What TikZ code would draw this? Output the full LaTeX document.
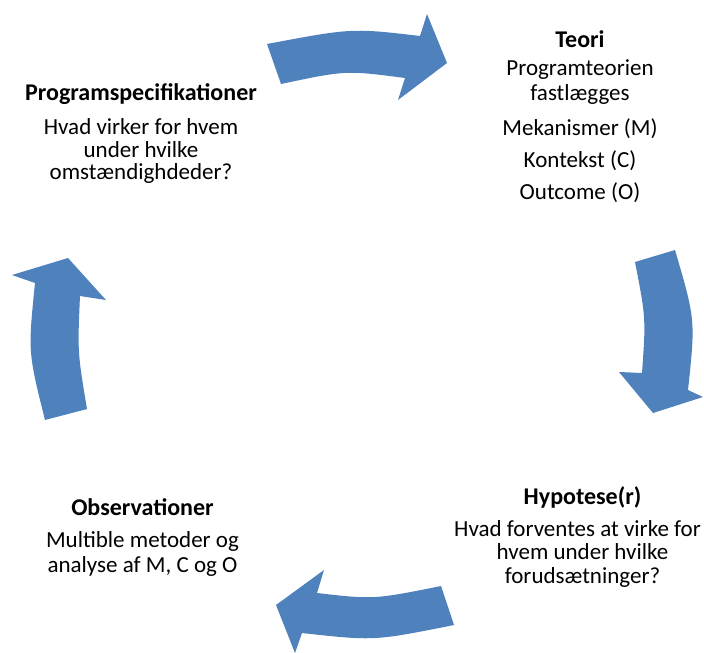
\documentclass[tikz,border=0pt]{standalone}
\usepackage{fontspec}
\setmainfont{Carlito}
\definecolor{arrowblue}{RGB}{79,129,189}
\begin{document}
\begin{tikzpicture}[x=1pt,y=-1pt,
  blockarrow/.style={fill=arrowblue,draw=none},
  hd/.style={anchor=base,inner sep=0pt,font=\fontsize{24}{25}\selectfont\bfseries},
  tx/.style={anchor=base,inner sep=0pt,font=\fontsize{23}{24}\selectfont}]
\useasboundingbox (0,0) rectangle (704,653);
% arrows
\fill[blockarrow] (267,44) .. controls (352,28) .. (420,36) -- (427,14) -- (447,63) -- (398,100) -- (405,78) .. controls (345.7,70.3) .. (281,84) -- cycle;
\fill[blockarrow] (635,262) -- (675,250) .. controls (695.5,320) .. (688,390) -- (703,397) -- (653,413) -- (619,372) -- (642,373) .. controls (645.9,318) .. (635,262) -- cycle;
\fill[blockarrow] (441,586) .. controls (373.7,599.5) .. (317,593) -- (324,570) -- (276,605) -- (295,653) -- (302,633) .. controls (374,641) .. (454,625) -- cycle;
\fill[blockarrow] (45,420) -- (87,409) .. controls (77.5,352) .. (80,296) -- (106,300) -- (68,258) -- (12,275) -- (35,283) .. controls (28,352) .. (45,420) -- cycle;
% Teori
\node[hd] (teori) at (580,47) {Teori};
\node[tx] (teori1) at (580,75) {Programteorien};
\node[tx] (teori2) at (580,100) {fastlægges};
\node[tx] (teori3) at (580,135) {Mekanismer (M)};
\node[tx] (teori4) at (580,167) {Kontekst (C)};
\node[tx] (teori5) at (580,199) {Outcome (O)};
% Programspecifikationer
\node[hd] (prog) at (141,100) {Programspecifikationer};
\node[tx] (prog1) at (141,134) {Hvad virker for hvem};
\node[tx] (prog2) at (141,157) {under hvilke};
\node[tx] (prog3) at (141,179) {omstændighdeder?};
% Observationer
\node[hd] (obs) at (142.5,515) {Observationer};
\node[tx] (obs1) at (142.5,547) {Multible metoder og};
\node[tx] (obs2) at (142.5,572) {analyse af M, C og O};
% Hypotese
\node[hd] (hyp) at (582.5,504) {Hypotese(r)};
\node[tx] (hyp1) at (577.5,536) {Hvad forventes at virke for};
\node[tx] (hyp2) at (582.5,559) {hvem under hvilke};
\node[tx] (hyp3) at (582.5,583) {forudsætninger?};
\end{tikzpicture}
\end{document}
